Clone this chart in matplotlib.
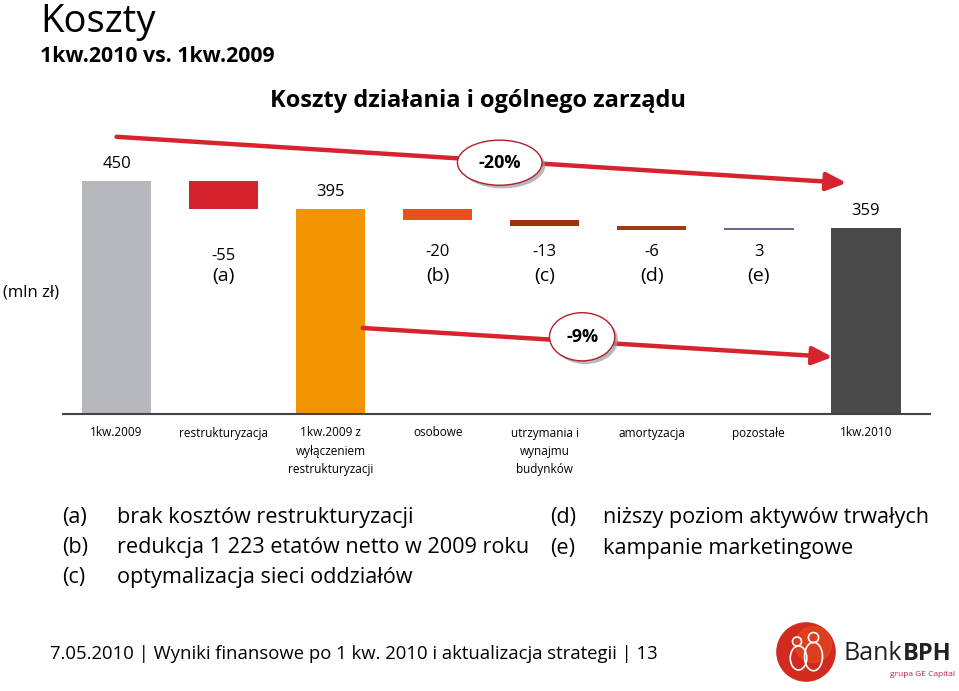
import matplotlib
matplotlib.use('Agg')
import matplotlib.pyplot as plt
from matplotlib.patches import Ellipse, Circle

plt.rcParams['font.family'] = ['Open Sans', 'DejaVu Sans']

# data
categories = ['1kw.2009', 'restrukturyzacja', '1kw.2009 z\nwyłączeniem\nrestrukturyzacji',
              'osobowe', 'utrzymania i\nwynajmu\nbudynków', 'amortyzacja', 'pozostałe', '1kw.2010']
values = [450, -55, 395, -20, -13, -6, 3, 359]
is_total = [True, False, True, False, False, False, False, True]
letters = ['', '(a)', '', '(b)', '(c)', '(d)', '(e)', '']
bar_colors = ['#b7b8bc', '#d4212b', '#f29400', '#e5521c', '#9c330c', '#9a3d14', '#6d6a92', '#4a4a4a']
change_top = '-20%'
change_bottom = '-9%'

notes_left = [('(a)', 'brak kosztów restrukturyzacji'),
              ('(b)', 'redukcja 1 223 etatów netto w 2009 roku'),
              ('(c)', 'optymalizacja sieci oddziałów')]
notes_right = [('(d)', 'niższy poziom aktywów trwałych'),
               ('(e)', 'kampanie marketingowe')]

W, H = 959, 691
fig = plt.figure(figsize=(W / 100, H / 100), dpi=100)


def fx(px):
    return px / W


def fy(py):
    return 1 - py / H


# chart axes: baseline at y=414px, x from 63 to 930px
ax = fig.add_axes([fx(63), fy(414), fx(930) - fx(63), fy(100) - fy(414)])
ax.set_xlim(-0.5, 7.6)
ax.set_ylim(0, 606)

running = 0
bottoms, heights = [], []
for v, tot in zip(values, is_total):
    if tot:
        bottoms.append(0)
        heights.append(v)
        running = v
    else:
        bottoms.append(running)
        heights.append(v)
        running += v

x = list(range(len(values)))
ax.bar(x, heights, bottom=bottoms, width=0.65, color=bar_colors, zorder=2)

for i, v in enumerate(values):
    if is_total[i]:
        ax.text(i, v + 33, str(v), ha='center', va='center', fontsize=12)
    else:
        ny = 304 if i == 1 else 312
        ax.text(i, ny, str(v), ha='center', va='center', fontsize=12)
        ax.text(i, 267, letters[i], ha='center', va='center', fontsize=14)

ax.set_xticks(x)
ax.set_xticklabels(categories, fontsize=8.5, linespacing=1.5, va='top')
ax.tick_params(axis='x', length=0, pad=9)
ax.set_yticks([])
for s in ['top', 'left', 'right']:
    ax.spines[s].set_visible(False)
ax.spines['bottom'].set_color('#444444')
ax.spines['bottom'].set_linewidth(1.5)

red = '#d7232d'
arrow_kw = dict(arrowstyle='-|>,head_length=1.0,head_width=0.45', color=red, lw=3.2,
                shrinkA=0, shrinkB=0, mutation_scale=12)
ax.annotate('', xy=(6.82, 446), xytext=(0.0, 535), arrowprops=arrow_kw, zorder=3)
ax.annotate('', xy=(6.69, 110), xytext=(2.30, 166), arrowprops=arrow_kw, zorder=3)


def bubble(cx, cy, w, h, label):
    ax.add_patch(Ellipse((cx + 0.03, cy - 6), w, h, facecolor='#9a9a9a', edgecolor='none', alpha=0.7, zorder=4))
    ax.add_patch(Ellipse((cx, cy), w, h, facecolor='white', edgecolor='#b0202a', lw=1.0, zorder=5))
    ax.text(cx, cy, label, ha='center', va='center', fontsize=13, fontweight='bold', zorder=6)


bubble(3.58, 485, 0.79, 87, change_top)
bubble(4.35, 149, 0.61, 93, change_bottom)

# titles
fig.text(fx(40), fy(32), 'Koszty', fontsize=27.5, va='baseline', ha='left')
fig.text(fx(40), fy(62), '1kw.2010 vs. 1kw.2009', fontsize=15.3, fontweight='bold', va='baseline', ha='left')
fig.text(fx(478), fy(101), 'Koszty działania i ogólnego zarządu', fontsize=17, fontweight='bold',
         va='center', ha='center')
fig.text(fx(3), fy(292), '(mln zł)', fontsize=12, va='center', ha='left')

for k, (tag, txt) in enumerate(notes_left):
    y = 517 + k * 30.5
    fig.text(fx(62), fy(y), tag, fontsize=15.6, va='center')
    fig.text(fx(117), fy(y), txt, fontsize=15.6, va='center')
for k, (tag, txt) in enumerate(notes_right):
    y = 518 + k * 30.5
    fig.text(fx(550), fy(y), tag, fontsize=15.6, va='center')
    fig.text(fx(603), fy(y), txt, fontsize=15.6, va='center')

fig.text(fx(50), fy(654), '7.05.2010 | Wyniki finansowe po 1 kw. 2010 i aktualizacja strategii | 13',
         fontsize=13.3, va='center', ha='left')

# logo
lax = fig.add_axes([fx(776), fy(682), fx(60), fy(622) - fy(682)])
lax.set_xlim(-1, 1)
lax.set_ylim(-1, 1)
lax.set_aspect('equal')
lax.axis('off')
lax.add_patch(Circle((0, 0), 0.97, color='#d22a1f'))
lax.add_patch(Circle((0.25, 0.25), 0.6, color='#e8541e', alpha=0.5))
lax.add_patch(Ellipse((-0.25, -0.2), 0.55, 0.8, fill=False, edgecolor='white', lw=1.2))
lax.add_patch(Ellipse((0.25, -0.15), 0.6, 0.95, fill=False, edgecolor='white', lw=1.2))
lax.add_patch(Circle((-0.3, 0.35), 0.15, fill=False, edgecolor='white', lw=1.2))
lax.add_patch(Circle((0.25, 0.48), 0.17, fill=False, edgecolor='white', lw=1.2))
fig.text(fx(843), fy(654), 'Bank', fontsize=18, va='center', ha='left', color='#222222')
fig.text(fx(903), fy(654), 'BPH', fontsize=17, fontweight='bold', va='center', ha='left', color='#222222')
fig.text(fx(955), fy(675), 'grupa GE Capital', fontsize=6, va='center', ha='right', color='#c2185b')

fig.savefig('out.png', dpi=100)
